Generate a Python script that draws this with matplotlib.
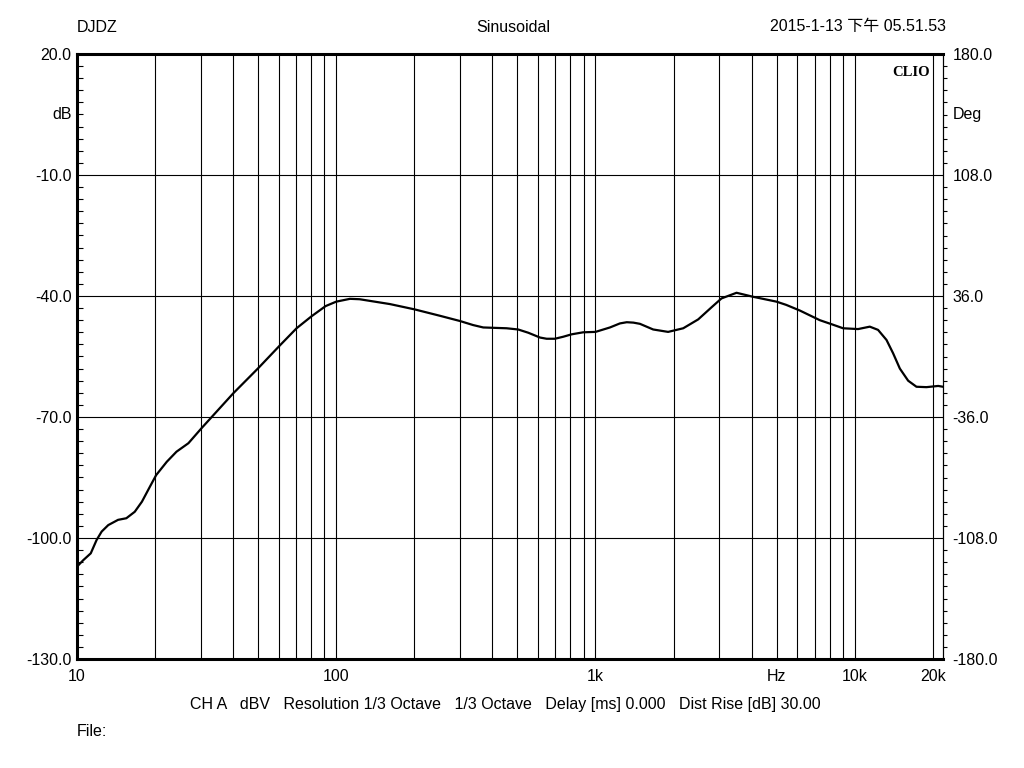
import numpy as np
import matplotlib
matplotlib.use('Agg')
import matplotlib.pyplot as plt
from matplotlib.ticker import FixedLocator, NullFormatter

plt.rcParams['font.family'] = ['Liberation Sans', 'Noto Sans CJK SC']
plt.rcParams['axes.unicode_minus'] = False

# response curve (Hz, dBV)
freq = [10, 10.57, 11.3, 11.9, 12.45, 13.2, 14.4, 15.5, 16.7, 17.8, 19.1, 20.2,
        22.2, 24.2, 26.9, 30.2, 40.1, 50.0, 60.3, 70.3, 80.4, 91, 100, 113,
        123, 161, 200, 251, 300, 337, 369, 409, 454, 503, 550, 611, 648, 697,
        751, 809, 897, 1000, 1137, 1242, 1320, 1400, 1484, 1669, 1906, 2180,
        2490, 2803, 3062, 3500, 4057, 4990, 5440, 6140, 7335, 8145, 9020,
        10300, 11430, 12300, 13260, 14060, 14930, 16070, 17300, 18900, 20990,
        21900]
level = [-107.1, -105.5, -103.8, -100.5, -98.4, -96.8, -95.5, -95.1, -93.5,
         -91.0, -87.3, -84.4, -81.1, -78.6, -76.5, -72.8, -64.1, -57.9, -52.4,
         -48.0, -45.0, -42.5, -41.4, -40.7, -40.8, -42.0, -43.3, -44.9, -46.2,
         -47.2, -47.8, -47.9, -48.0, -48.3, -49.1, -50.3, -50.6, -50.6, -50.1,
         -49.5, -49.0, -48.9, -47.8, -46.8, -46.5, -46.6, -46.9, -48.3, -48.9,
         -48.0, -45.8, -42.8, -40.6, -39.2, -40.2, -41.4, -42.2, -43.6, -46.0,
         -47.0, -48.0, -48.2, -47.6, -48.4, -50.9, -54.2, -58.0, -61.0, -62.5,
         -62.6, -62.3, -62.5]

db_ticks = [20, -10, -40, -70, -100, -130]
db_labels = ['20.0', '-10.0', '-40.0', '-70.0', '-100.0', '-130.0']
deg_ticks = [180, 108, 36, -36, -108, -180]
deg_labels = ['180.0', '108.0', '36.0', '-36.0', '-108.0', '-180.0']
x_ticks = [10, 100, 1000, 5000, 10000, 20000]
x_labels = ['10', '100', '1k', 'Hz', '10k', '20k']

fs = 11.5

fig = plt.figure(figsize=(10.24, 7.68), dpi=100)
ax = fig.add_axes([77/1024, 109/768, 866/1024, 605/768])

grid_f = [m * 10**e for e in range(1, 5) for m in range(1, 10) if m * 10**e <= 20000]
for f in grid_f:
    ax.axvline(f, color='black', lw=0.8, zorder=1)
for d in db_ticks[1:-1]:
    ax.axhline(d, color='black', lw=0.8, zorder=1)

ax.plot(freq, level, color='black', lw=1.6, zorder=3, solid_joinstyle='round')

ax.set_xscale('log')
ax.set_xlim(10, 21900)
ax.set_ylim(-130, 20)

ax.xaxis.set_major_locator(FixedLocator(x_ticks))
ax.set_xticklabels(x_labels)
ax.xaxis.set_minor_locator(FixedLocator([]))
ax.xaxis.set_minor_formatter(NullFormatter())
ax.tick_params(axis='x', which='major', length=0, pad=7, labelsize=fs)

ax.set_yticks(db_ticks)
ax.set_yticklabels(db_labels)
ax.yaxis.set_minor_locator(FixedLocator(np.arange(-130, 21, 3)))
ax.tick_params(axis='y', which='major', length=0, pad=4, labelsize=fs)
ax.tick_params(axis='y', which='minor', direction='in', length=4, width=0.8)

for s in ['left', 'top', 'bottom']:
    ax.spines[s].set_linewidth(2.2)
ax.spines['right'].set_linewidth(0.8)

ax2 = ax.twinx()
ax2.set_ylim(-180, 180)
ax2.set_yticks(deg_ticks)
ax2.set_yticklabels(deg_labels)
ax2.yaxis.set_minor_locator(FixedLocator(np.arange(-180, 181, 7.2)))
ax2.tick_params(axis='y', which='major', length=0, pad=7, labelsize=fs)
ax2.tick_params(axis='y', which='minor', direction='out', length=3, width=0.8)
for s in ['left', 'top', 'bottom']:
    ax2.spines[s].set_visible(False)
ax2.spines['right'].set_linewidth(0.8)

ax.text(-0.006, 5, 'dB', transform=ax.get_yaxis_transform(), ha='right',
        va='center', fontsize=fs)
ax2.text(1.011, 144, 'Deg', transform=ax2.get_yaxis_transform(), ha='left',
         va='center', fontsize=fs)
ax.text(0.985, 0.98, 'CLIO', transform=ax.transAxes, ha='right', va='top',
        fontsize=10.5, fontweight='bold', family='Liberation Serif')

fig.text(77/1024, 1 - 27/768, 'DJDZ', ha='left', va='center', fontsize=fs)
fig.text(513/1024, 1 - 27/768, 'Sinusoidal', ha='center', va='center', fontsize=fs)
fig.text(946/1024, 1 - 27/768, '2015-1-13 下午 05.51.53', ha='right', va='center',
         fontsize=fs)
fig.text(505/1024, 1 - 705/768,
         'CH A   dBV   Resolution 1/3 Octave   1/3 Octave   Delay [ms] 0.000   Dist Rise [dB] 30.00',
         ha='center', va='center', fontsize=fs)
fig.text(77/1024, 1 - 732/768, 'File:', ha='left', va='center', fontsize=fs)

fig.savefig('out.png', dpi=100)
plt.close(fig)
